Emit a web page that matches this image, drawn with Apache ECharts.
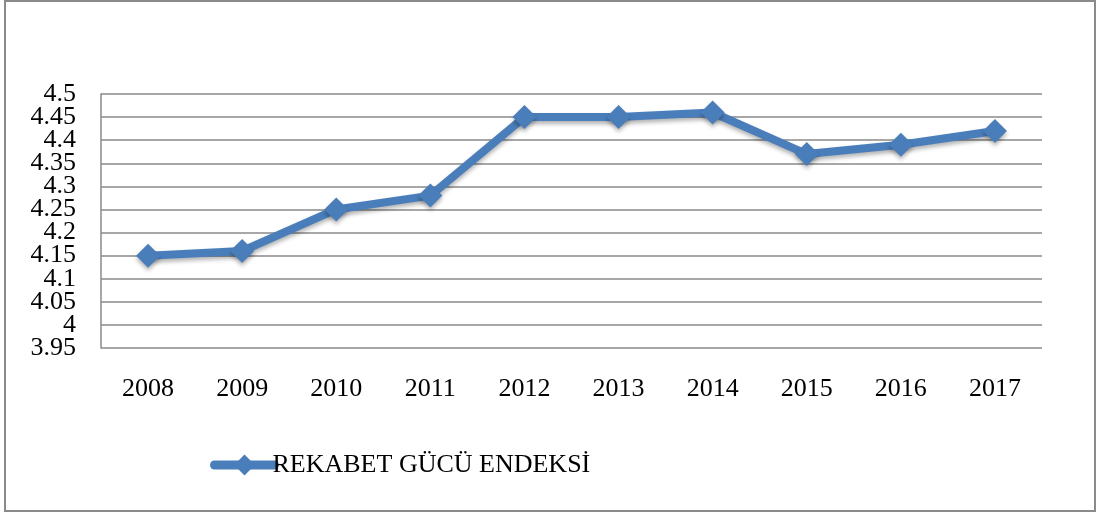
<!DOCTYPE html>
<html>
<head>
<meta charset="utf-8">
<script src="https://cdn.jsdelivr.net/npm/echarts@6/dist/echarts.min.js"></script>
<style>
  html, body { margin: 0; padding: 0; background: #fff; }
  #chart { width: 1099px; height: 516px; }
</style>
</head>
<body>
<div id="chart"></div>
<script>
const years = ['2008', '2009', '2010', '2011', '2012', '2013', '2014', '2015', '2016', '2017'];
const indexValues = [4.15, 4.16, 4.25, 4.28, 4.45, 4.45, 4.46, 4.37, 4.39, 4.42];
const seriesName = 'REKABET GÜCÜ ENDEKSİ';
const yMin = 3.95;
const yMax = 4.5;
const yStep = 0.05;

const chart = echarts.init(document.getElementById('chart'));
const serif = '"Liberation Serif", "DejaVu Serif", serif';

// plot box
const plotTop = 94, plotBottom = 168, plotLeft = 101, plotRight = 57;
const stepPx = (516 - plotTop - plotBottom) / ((yMax - yMin) / yStep);

const fmt = (v) => String(parseFloat(v.toFixed(2)));
const labelStyle = { fontFamily: serif, fontSize: 26, color: '#000', margin: 25, formatter: fmt };

// the tick labels are drawn by two extra axes, every second label each,
// so that the tight labels do not get hidden by overlap checks
chart.setOption({
  backgroundColor: '#fff',
  animation: false,
  graphic: [
    {
      type: 'rect',
      shape: { x: 5, y: 1, width: 1090, height: 510 },
      style: { fill: 'none', stroke: '#8a8a8a', lineWidth: 2 }
    }
  ],
  grid: [
    { left: plotLeft, right: plotRight, top: plotTop, bottom: plotBottom },
    { left: plotLeft, right: plotRight, top: plotTop - stepPx, bottom: plotBottom },
    { left: plotLeft, right: plotRight, top: plotTop, bottom: plotBottom - stepPx }
  ],
  legend: {
    data: [seriesName],
    left: 205,
    top: 447,
    itemWidth: 60,
    itemHeight: 26,
    itemGap: 0,
    lineStyle: { width: 9, cap: 'round' },
    itemStyle: { borderWidth: 0 },
    textStyle: { fontFamily: serif, fontSize: 26, color: '#000', padding: [0, 0, 0, -7] }
  },
  xAxis: [
    {
      type: 'category',
      gridIndex: 0,
      data: years,
      boundaryGap: true,
      axisLine: { show: false },
      axisTick: { show: false },
      axisLabel: { fontFamily: serif, fontSize: 26, color: '#000', margin: 28 }
    },
    { type: 'category', gridIndex: 1, data: years, show: false },
    { type: 'category', gridIndex: 2, data: years, show: false }
  ],
  yAxis: [
    {
      type: 'value',
      gridIndex: 0,
      min: yMin,
      max: yMax,
      interval: yStep,
      axisLine: { show: true, lineStyle: { color: '#8a8a8a', width: 1.5 } },
      axisTick: { show: false },
      axisLabel: { show: false },
      splitLine: { show: true, lineStyle: { color: '#8a8a8a', width: 1.5 } }
    },
    {
      type: 'value',
      gridIndex: 1,
      min: yMin,
      max: yMax + yStep,
      interval: yStep * 2,
      axisLine: { show: false },
      axisTick: { show: false },
      splitLine: { show: false },
      axisLabel: Object.assign({ showMinLabel: true, showMaxLabel: false }, labelStyle)
    },
    {
      type: 'value',
      gridIndex: 2,
      min: yMin - yStep,
      max: yMax,
      interval: yStep * 2,
      axisLine: { show: false },
      axisTick: { show: false },
      splitLine: { show: false },
      axisLabel: Object.assign({ showMinLabel: false, showMaxLabel: true }, labelStyle)
    }
  ],
  series: [
    {
      name: seriesName,
      type: 'line',
      xAxisIndex: 0,
      yAxisIndex: 0,
      data: indexValues,
      symbol: 'diamond',
      symbolSize: 24,
      lineStyle: {
        color: '#4a7ebb', width: 8, cap: 'round', join: 'round',
        shadowColor: 'rgba(0,0,0,0.3)', shadowBlur: 4, shadowOffsetY: 3
      },
      itemStyle: {
        color: '#4a7ebb',
        shadowColor: 'rgba(0,0,0,0.3)', shadowBlur: 4, shadowOffsetY: 3
      }
    }
  ]
});
</script>
</body>
</html>
